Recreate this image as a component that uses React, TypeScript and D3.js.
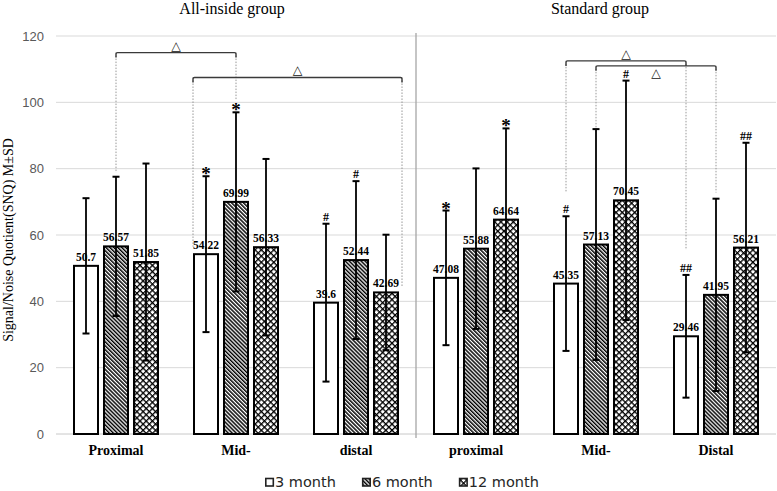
import { useEffect, useRef } from 'react'
import * as d3 from 'd3'

const W = 777
const H = 491

const groups = ['All-inside group', 'Standard group']
const categories = ['Proximal', 'Mid-', 'distal', 'proximal', 'Mid-', 'Distal']
const series = ['3 month', '6 month', '12 month']
const yTicks = [0, 20, 40, 60, 80, 100, 120]

const mean3 = [50.7, 54.22, 39.6, 47.08, 45.35, 29.46]
const mean6 = [56.57, 69.99, 52.44, 55.88, 57.13, 41.95]
const mean12 = [51.85, 56.33, 42.69, 64.64, 70.45, 56.21]
const sd3 = [20.4, 23.5, 23.8, 20.3, 20.3, 18.5]
const sd6 = [21.0, 27.0, 23.8, 24.2, 34.8, 29.0]
const sd12 = [29.7, 26.6, 17.4, 27.5, 36.1, 31.6]

// significance marks above the error bars
const mark3 = ['', '*', '#', '*', '#', '##']
const mark6 = ['', '*', '#', '', '', '']
const mark12 = ['', '', '', '*', '#', '##']

// Δ brackets: [category, series, anchor] at each end, level and drop values in y units
const bracketFrom: [number, number, string][] = [[0, 1, 'center'], [1, 0, 'left'], [4, 0, 'center'], [4, 1, 'center']]
const bracketTo: [number, number, string][] = [[1, 1, 'center'], [2, 2, 'right'], [5, 0, 'center'], [5, 1, 'center']]
const bracketLevel = [115, 107.5, 112.5, 111]
const bracketDropFrom = [78.8, 56.5, 72.7, 92]
const bracketDropTo = [100.8, 44.5, 55.5, 72.8]
const bracketLabelSide = ['above', 'above', 'above', 'below']

export default function App() {
  const svgRef = useRef<SVGSVGElement>(null)

  useEffect(() => {
    const svg = svgRef.current
    if (!svg) return
    const root = d3.select(svg)
    root.selectAll('*').remove()
    root.attr('width', W).attr('height', H)

    const serif = '"Liberation Serif", "Times New Roman", serif'
    const sans = '"Liberation Sans", Arial, sans-serif'

    const means = [mean3, mean6, mean12]
    const sds = [sd3, sd6, sd12]
    const marks = [mark3, mark6, mark12]

    const x0 = d3.scaleBand<number>().domain(d3.range(categories.length)).range([56, 776]).padding(0)
    const x1 = d3.scaleBand<number>().domain(d3.range(series.length)).range([17, 103]).paddingInner(4 / 30).paddingOuter(0)
    const y = d3.scaleLinear().domain([0, 120]).range([434, 36])

    const barX = (c: number, s: number) => x0(c)! + x1(s)!
    const barMid = (c: number, s: number) => barX(c, s) + x1.bandwidth() / 2

    // patterns
    const defs = root.append('defs')
    const diag = defs.append('pattern').attr('id', 'p-diag').attr('patternUnits', 'userSpaceOnUse')
      .attr('width', 2.8).attr('height', 10).attr('patternTransform', 'rotate(-45)')
    diag.append('rect').attr('width', 2.8).attr('height', 10).attr('fill', '#fff')
    diag.append('line').attr('x1', 0.75).attr('x2', 0.75).attr('y1', 0).attr('y2', 10)
      .attr('stroke', '#000').attr('stroke-width', 1.5)
    const cross = defs.append('pattern').attr('id', 'p-cross').attr('patternUnits', 'userSpaceOnUse')
      .attr('width', 4.4).attr('height', 4.4).attr('patternTransform', 'rotate(45)')
    cross.append('rect').attr('width', 4.4).attr('height', 4.4).attr('fill', '#fff')
    cross.append('path').attr('d', 'M0,0.65H4.4M0.65,0V4.4').attr('stroke', '#000').attr('stroke-width', 1.3)
    const fills = ['#fff', 'url(#p-diag)', 'url(#p-cross)']

    // grid
    root.append('g').selectAll('line').data(yTicks).join('line')
      .attr('x1', 56).attr('x2', 776)
      .attr('y1', d => y(d)).attr('y2', d => y(d))
      .attr('stroke', d => (d === 0 ? '#c8c8c8' : '#d9d9d9')).attr('stroke-width', 1)

    root.append('g').selectAll('text').data(yTicks).join('text')
      .attr('x', 44).attr('y', d => y(d) + 4.5)
      .attr('text-anchor', 'end').attr('font-family', sans).attr('font-size', 13).attr('fill', '#595959')
      .text(d => d)

    // divider between groups
    root.append('line').attr('x1', x0(3)!).attr('x2', x0(3)!).attr('y1', 33).attr('y2', 438)
      .attr('stroke', '#a6a6a6').attr('stroke-width', 1.3)

    // group titles
    root.append('g').selectAll('text').data(groups).join('text')
      .attr('x', (_, i) => (x0(i * 3)! + x0(i * 3 + 2)! + x0.bandwidth()) / 2 - 4 + i * 8)
      .attr('y', 14)
      .attr('text-anchor', 'middle').attr('font-family', serif).attr('font-size', 16).attr('fill', '#000')
      .text(d => d)

    // y title
    root.append('text')
      .attr('transform', 'translate(13,240) rotate(-90)')
      .attr('text-anchor', 'middle').attr('font-family', serif).attr('font-size', 14).attr('fill', '#000')
      .text('Signal/Noise Quotient(SNQ) M±SD')

    // brackets
    const anchorX = (a: [number, number, string]) => {
      const [c, s, side] = a
      if (side === 'left') return barX(c, s)
      if (side === 'right') return barX(c, s) + x1.bandwidth() + 3
      return barMid(c, s)
    }
    const bg = root.append('g')
    bracketLevel.forEach((lv, i) => {
      const xa = anchorX(bracketFrom[i])
      const xb = anchorX(bracketTo[i])
      const yl = y(lv)
      bg.append('line').attr('x1', xa).attr('x2', xa).attr('y1', yl).attr('y2', y(bracketDropFrom[i]))
        .attr('stroke', '#8c8c8c').attr('stroke-width', 0.9).attr('stroke-dasharray', '1.5,1.5')
      bg.append('line').attr('x1', xb).attr('x2', xb).attr('y1', yl).attr('y2', y(bracketDropTo[i]))
        .attr('stroke', '#8c8c8c').attr('stroke-width', 0.9).attr('stroke-dasharray', '1.5,1.5')
      bg.append('path')
        .attr('d', `M${xa},${yl + 5}V${yl + 1.5}Q${xa},${yl} ${xa + 1.5},${yl}H${xb - 1.5}Q${xb},${yl} ${xb},${yl + 1.5}V${yl + 5}`)
        .attr('fill', 'none').attr('stroke', '#3a3a3a').attr('stroke-width', 1.4)
      bg.append('text')
        .attr('x', (xa + xb) / 2).attr('y', bracketLabelSide[i] === 'above' ? yl - 3 : yl + 11)
        .attr('text-anchor', 'middle').attr('font-family', '"DejaVu Sans", sans-serif').attr('font-size', 12.5)
        .attr('fill', '#111').text('△')
    })

    // bars
    const bars = root.append('g')
    series.forEach((_, s) => {
      bars.append('g').selectAll('rect').data(means[s]).join('rect')
        .attr('x', (_, c) => barX(c, s) + 1)
        .attr('y', d => y(d))
        .attr('width', x1.bandwidth() - 2)
        .attr('height', d => y(0) - y(d))
        .attr('fill', fills[s]).attr('stroke', '#000').attr('stroke-width', 2)
    })

    // value labels
    series.forEach((_, s) => {
      root.append('g').selectAll('text').data(means[s]).join('text')
        .attr('x', (_, c) => barMid(c, s)).attr('y', d => y(d) - 5)
        .attr('text-anchor', 'middle').attr('font-family', serif).attr('font-weight', 'bold')
        .attr('font-size', 11.5).attr('fill', '#000')
        .text(d => d)
    })

    // error bars and marks
    series.forEach((_, s) => {
      const g = root.append('g')
      means[s].forEach((m, c) => {
        const cx = barMid(c, s)
        const top = y(m + sds[s][c])
        const bot = y(m - sds[s][c])
        g.append('line').attr('x1', cx).attr('x2', cx).attr('y1', top).attr('y2', bot)
          .attr('stroke', '#000').attr('stroke-width', 1.8)
        g.append('line').attr('x1', cx - 3.5).attr('x2', cx + 3.5).attr('y1', top).attr('y2', top)
          .attr('stroke', '#000').attr('stroke-width', 2)
        g.append('line').attr('x1', cx - 3.5).attr('x2', cx + 3.5).attr('y1', bot).attr('y2', bot)
          .attr('stroke', '#000').attr('stroke-width', 2)
        const mk = marks[s][c]
        if (mk) {
          const star = mk === '*'
          g.append('text').attr('x', cx).attr('y', star ? top + 4 : top - 3)
            .attr('text-anchor', 'middle').attr('font-family', serif).attr('font-weight', 'bold')
            .attr('font-size', star ? 19 : 12).attr('fill', '#000').text(mk)
        }
      })
    })

    // category labels
    root.append('g').selectAll('text').data(categories).join('text')
      .attr('x', (_, c) => x0(c)! + x0.bandwidth() / 2).attr('y', 455)
      .attr('text-anchor', 'middle').attr('font-family', serif).attr('font-weight', 'bold')
      .attr('font-size', 14).attr('fill', '#000')
      .text(d => d)

    // legend
    const lg = root.append('g')
    let lx = 265
    series.forEach((name, s) => {
      lg.append('rect').attr('x', lx + 0.8).attr('y', 478.5).attr('width', 7.5).attr('height', 7.5)
        .attr('fill', fills[s]).attr('stroke', '#222').attr('stroke-width', 1.6)
      const t = lg.append('text').attr('x', lx + 10).attr('y', 487)
        .attr('font-family', '"DejaVu Sans", sans-serif').attr('font-size', 14.5).attr('fill', '#262626')
        .text(name)
      const len = (t.node() as SVGTextElement).getComputedTextLength()
      lx += 10 + len + 26
    })
  }, [])

  return <svg ref={svgRef} style={{ position: 'absolute', left: 0, top: 0 }} />
}
